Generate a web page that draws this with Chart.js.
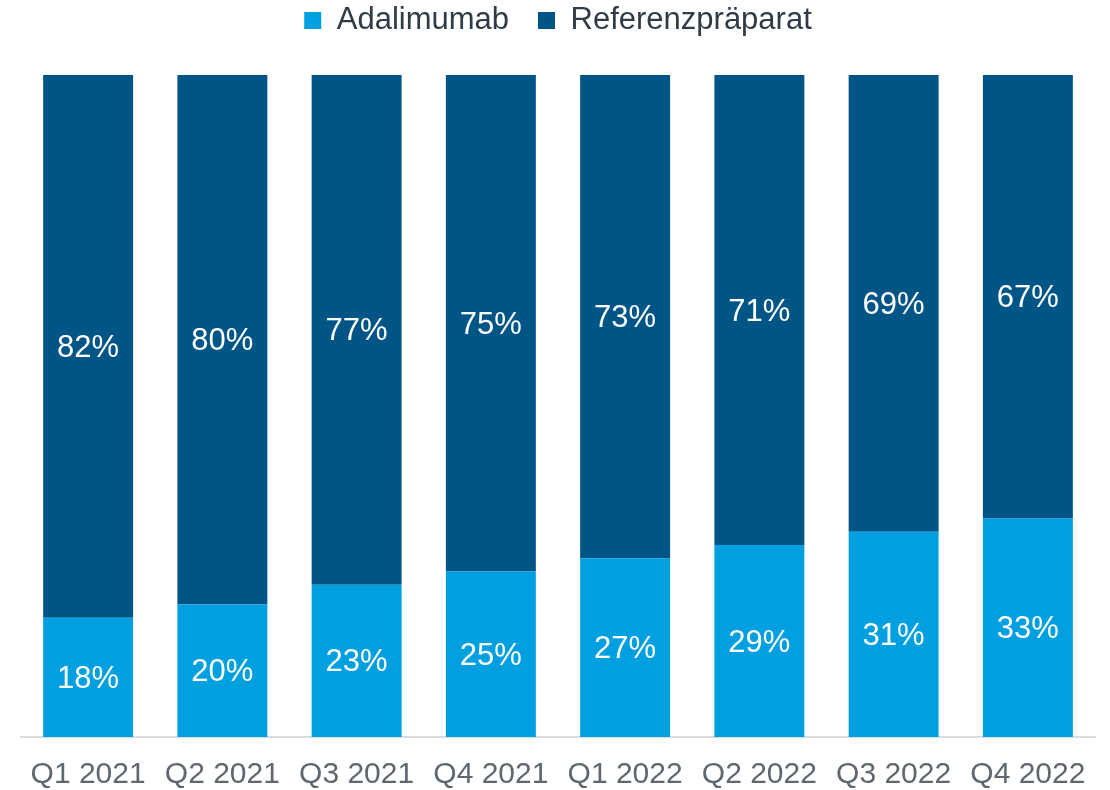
<!DOCTYPE html>
<html>
<head>
<meta charset="utf-8">
<script src="https://cdn.jsdelivr.net/npm/chart.js@4"></script>
<style>
  html, body { margin: 0; padding: 0; background: #fff; }
  #wrap { width: 1110px; height: 790px; }
</style>
</head>
<body>
<div id="wrap"><canvas id="chart"></canvas></div>
<script>
// Daten
const quarters = ['Q1 2021', 'Q2 2021', 'Q3 2021', 'Q4 2021', 'Q1 2022', 'Q2 2022', 'Q3 2022', 'Q4 2022'];
const adalimumab = [18, 20, 23, 25, 27, 29, 31, 33];
const referenz = [82, 80, 77, 75, 73, 71, 69, 67];

// Werte in die Balken schreiben
const barLabels = {
  id: 'barLabels',
  afterDatasetsDraw(chart) {
    const ctx = chart.ctx;
    ctx.save();
    ctx.fillStyle = '#ffffff';
    ctx.font = '31px "Liberation Sans", Arial, sans-serif';
    ctx.textAlign = 'center';
    ctx.textBaseline = 'middle';
    chart.data.datasets.forEach(function(ds, i) {
      chart.getDatasetMeta(i).data.forEach(function(bar, j) {
        const mid = (bar.y + bar.base) / 2;
        ctx.fillText(ds.data[j] + '%', bar.x, mid + 2);
      });
    });
    ctx.restore();
  }
};

// Abstand zwischen Legende und Balken
const legendSpace = {
  id: 'legendSpace',
  beforeInit(chart) {
    const origFit = chart.legend.fit;
    chart.legend.fit = function() {
      origFit.bind(chart.legend)();
      this.height = 99;
    };
  }
};

new Chart(document.getElementById('chart'), {
  type: 'bar',
  data: {
    labels: quarters,
    datasets: [
      { label: 'Adalimumab', data: adalimumab, backgroundColor: '#009fe0', categoryPercentage: 1, barPercentage: 0.67 },
      { label: 'Referenzpräparat', data: referenz, backgroundColor: '#005587', categoryPercentage: 1, barPercentage: 0.67 }
    ]
  },
  options: {
    responsive: true,
    maintainAspectRatio: false,
    animation: false,
    devicePixelRatio: 1,
    layout: { padding: { left: 21, right: 15, top: -24, bottom: -23 } },
    plugins: {
      legend: {
        position: 'top',
        labels: {
          boxWidth: 17,
          boxHeight: 17,
          padding: 29,
          color: '#2f3b46',
          font: { family: '"Liberation Sans", Arial, sans-serif', size: 31 }
        }
      },
      tooltip: { enabled: false }
    },
    scales: {
      x: {
        stacked: true,
        grid: { display: false, drawTicks: false },
        border: { display: true, color: '#d9dcdf', width: 2 },
        ticks: {
          color: '#5f6870',
          padding: 20,
          maxRotation: 0,
          font: { family: '"Liberation Sans", Arial, sans-serif', size: 30 }
        }
      },
      y: {
        stacked: true,
        display: false,
        min: 0,
        max: 100
      }
    }
  },
  plugins: [barLabels, legendSpace]
});
</script>
</body>
</html>
